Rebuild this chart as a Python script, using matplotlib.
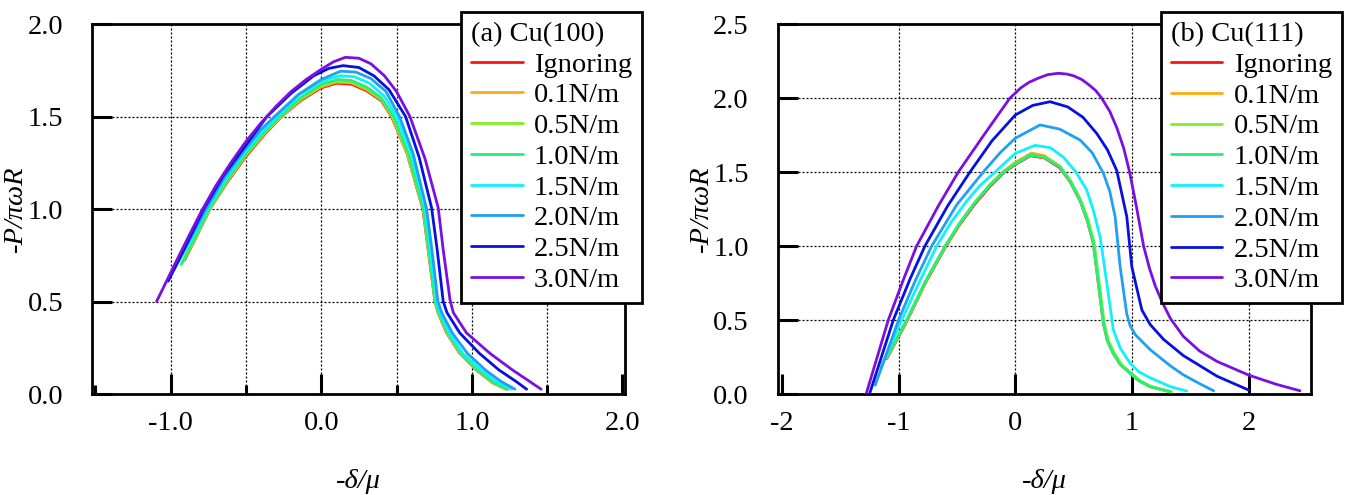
import numpy as np
import matplotlib
matplotlib.use("Agg")
import matplotlib.pyplot as plt
from matplotlib.ticker import FixedLocator

plt.rcParams['font.family'] = ['Liberation Serif', 'DejaVu Serif']

labels = ['Ignoring', '0.1N/m', '0.5N/m', '1.0N/m', '1.5N/m', '2.0N/m', '2.5N/m', '3.0N/m']
colors = ['#ff1010', '#ffaa10', '#80f020', '#20f080', '#10f0ff', '#20a0f0', '#0810e0', '#7a10e0']

# ---- (a) Cu(100) ----
a_ign_x = [-0.905, -0.82, -0.739, -0.62, -0.5, -0.38, -0.263, -0.13, 0.0, 0.1, 0.2, 0.3, 0.4, 0.467,
           0.57, 0.675, 0.71, 0.755, 0.777, 0.833, 0.92, 1.03, 1.14, 1.23]
a_ign_y = [0.727, 0.865, 1.0, 1.15, 1.284, 1.40, 1.5, 1.59, 1.655, 1.68, 1.675, 1.64, 1.585, 1.5,
           1.30, 1.0, 0.78, 0.5, 0.437, 0.33, 0.22, 0.13, 0.06, 0.026]
a_01_x = [-0.91, -0.82, -0.74, -0.62, -0.5, -0.38, -0.265, -0.13, 0.0, 0.1, 0.2, 0.3, 0.4, 0.47,
          0.57, 0.677, 0.712, 0.756, 0.778, 0.835, 0.922, 1.033, 1.143, 1.233]
a_01_y = [0.725, 0.868, 1.0, 1.155, 1.29, 1.405, 1.5, 1.595, 1.66, 1.686, 1.682, 1.646, 1.59, 1.5,
          1.30, 1.0, 0.78, 0.5, 0.437, 0.33, 0.22, 0.13, 0.06, 0.026]
a_05_x = [-0.92, -0.825, -0.742, -0.62, -0.5, -0.38, -0.27, -0.13, 0.0, 0.105, 0.2, 0.3, 0.4, 0.475,
          0.575, 0.678, 0.713, 0.757, 0.779, 0.838, 0.925, 1.036, 1.146, 1.236]
a_05_y = [0.712, 0.862, 1.0, 1.16, 1.295, 1.41, 1.5, 1.60, 1.668, 1.692, 1.689, 1.653, 1.595, 1.5,
          1.30, 1.0, 0.78, 0.5, 0.437, 0.33, 0.22, 0.13, 0.06, 0.026]
a_10_x = [-0.93, -0.83, -0.745, -0.62, -0.5, -0.38, -0.275, -0.13, 0.0, 0.11, 0.2, 0.3, 0.4, 0.48,
          0.58, 0.68, 0.715, 0.758, 0.78, 0.84, 0.93, 1.04, 1.15, 1.24]
a_10_y = [0.70, 0.86, 1.0, 1.165, 1.30, 1.415, 1.5, 1.605, 1.675, 1.70, 1.695, 1.66, 1.60, 1.5,
          1.30, 1.0, 0.78, 0.5, 0.44, 0.33, 0.22, 0.13, 0.06, 0.026]
a_15_x = [-0.983, -0.86, -0.755, -0.63, -0.5, -0.39, -0.29, -0.14, 0.0, 0.12, 0.22, 0.32, 0.42, 0.50,
          0.60, 0.69, 0.725, 0.765, 0.79, 0.85, 0.94, 1.06, 1.16, 1.264]
a_15_y = [0.664, 0.84, 1.0, 1.17, 1.315, 1.42, 1.5, 1.62, 1.69, 1.72, 1.715, 1.68, 1.61, 1.5,
          1.30, 1.0, 0.78, 0.5, 0.44, 0.33, 0.22, 0.13, 0.07, 0.026]
a_20_x = [-0.99, -0.87, -0.765, -0.64, -0.5, -0.4, -0.31, -0.15, 0.0, 0.13, 0.23, 0.33, 0.43, 0.52,
          0.61, 0.70, 0.735, 0.775, 0.80, 0.87, 0.97, 1.09, 1.19, 1.286]
a_20_y = [0.655, 0.84, 1.0, 1.175, 1.33, 1.43, 1.5, 1.62, 1.70, 1.745, 1.74, 1.705, 1.635, 1.5,
          1.30, 1.0, 0.78, 0.5, 0.44, 0.33, 0.22, 0.13, 0.07, 0.026]
a_25_x = [-1.016, -0.9, -0.78, -0.65, -0.5, -0.36, -0.2, -0.05, 0.05, 0.145, 0.25, 0.35, 0.45, 0.56,
          0.65, 0.733, 0.77, 0.81, 0.835, 0.92, 1.05, 1.18, 1.29, 1.364]
a_25_y = [0.61, 0.80, 1.0, 1.18, 1.345, 1.5, 1.625, 1.72, 1.76, 1.775, 1.765, 1.72, 1.645, 1.5,
          1.28, 1.006, 0.78, 0.5, 0.44, 0.33, 0.22, 0.13, 0.07, 0.026]
a_30_x = [-1.093, -1.0, -0.9, -0.794, -0.7, -0.6, -0.5, -0.4, -0.3, -0.2, -0.1, 0.0, 0.08, 0.16, 0.25,
          0.33, 0.42, 0.5, 0.589, 0.69, 0.777, 0.81, 0.855, 0.877, 0.965, 1.12, 1.27, 1.38, 1.46]
a_30_y = [0.50, 0.655, 0.82, 0.99, 1.125, 1.25, 1.365, 1.465, 1.555, 1.635, 1.70, 1.755, 1.795, 1.82, 1.815,
          1.785, 1.72, 1.635, 1.5, 1.27, 1.006, 0.78, 0.51, 0.44, 0.33, 0.22, 0.13, 0.07, 0.026]

# ---- (b) Cu(111) ----
b_ign_x = [-1.10, -0.93, -0.77, -0.60, -0.48, -0.35, -0.22, -0.10, 0.0, 0.13, 0.25, 0.38, 0.47, 0.556,
           0.62, 0.67, 0.713, 0.756, 0.79, 0.84, 0.90, 0.985, 1.06, 1.156, 1.33]
b_ign_y = [0.24, 0.49, 0.75, 0.99, 1.14, 1.28, 1.40, 1.495, 1.55, 1.61, 1.595, 1.53, 1.435, 1.305,
           1.165, 1.015, 0.745, 0.475, 0.36, 0.275, 0.20, 0.14, 0.09, 0.05, 0.015]
b_01_x = [-1.10, -0.93, -0.77, -0.60, -0.48, -0.35, -0.22, -0.10, 0.0, 0.14, 0.25, 0.38, 0.47, 0.556,
          0.62, 0.67, 0.713, 0.756, 0.79, 0.84, 0.90, 0.985, 1.06, 1.156, 1.33]
b_01_y = [0.245, 0.495, 0.755, 0.995, 1.145, 1.29, 1.41, 1.505, 1.565, 1.628, 1.61, 1.54, 1.44, 1.31,
          1.17, 1.018, 0.748, 0.478, 0.36, 0.275, 0.20, 0.14, 0.09, 0.05, 0.015]
b_05_x = [-1.10, -0.93, -0.77, -0.60, -0.48, -0.35, -0.22, -0.10, 0.0, 0.13, 0.25, 0.385, 0.475, 0.562,
          0.627, 0.677, 0.72, 0.763, 0.798, 0.85, 0.91, 0.995, 1.07, 1.166, 1.34]
b_05_y = [0.25, 0.50, 0.76, 1.0, 1.15, 1.29, 1.41, 1.50, 1.555, 1.615, 1.60, 1.536, 1.44, 1.31,
          1.17, 1.018, 0.748, 0.478, 0.36, 0.275, 0.20, 0.14, 0.09, 0.05, 0.015]
b_10_x = [-1.10, -0.93, -0.77, -0.60, -0.48, -0.35, -0.22, -0.10, 0.0, 0.13, 0.25, 0.38, 0.47, 0.556,
          0.62, 0.67, 0.713, 0.756, 0.79, 0.84, 0.90, 0.985, 1.06, 1.156, 1.33]
b_10_y = [0.25, 0.50, 0.76, 1.0, 1.15, 1.29, 1.41, 1.50, 1.555, 1.615, 1.60, 1.536, 1.44, 1.31,
          1.17, 1.018, 0.748, 0.478, 0.36, 0.275, 0.20, 0.14, 0.09, 0.05, 0.015]
b_15_x = [-1.15, -0.973, -0.82, -0.673, -0.55, -0.42, -0.30, -0.173, 0.0, 0.17, 0.30, 0.413, 0.52, 0.613,
          0.67, 0.727, 0.785, 0.841, 0.90, 0.985, 1.06, 1.156, 1.33, 1.47]
b_15_y = [0.18, 0.50, 0.76, 1.0, 1.16, 1.30, 1.41, 1.50, 1.626, 1.68, 1.665, 1.60, 1.50, 1.378,
          1.24, 1.063, 0.748, 0.432, 0.31, 0.207, 0.15, 0.11, 0.05, 0.02]
b_20_x = [-1.20, -1.0, -0.86, -0.716, -0.5, -0.274, -0.13, 0.0, 0.213, 0.38, 0.556, 0.66, 0.756, 0.81,
          0.856, 0.899, 0.956, 0.985, 1.03, 1.156, 1.33, 1.44, 1.58, 1.70]
b_20_y = [0.06, 0.50, 0.76, 1.0, 1.28, 1.50, 1.63, 1.728, 1.818, 1.79, 1.716, 1.63, 1.49, 1.37,
          1.198, 0.86, 0.54, 0.46, 0.40, 0.30, 0.19, 0.13, 0.07, 0.022]
b_25_x = [-1.245, -1.045, -0.9, -0.774, -0.58, -0.388, -0.2, 0.0, 0.15, 0.298, 0.45, 0.58, 0.699, 0.79,
          0.87, 0.956, 0.999, 1.085, 1.156, 1.27, 1.44, 1.73, 2.0]
b_25_y = [0.01, 0.5, 0.78, 1.0, 1.27, 1.5, 1.71, 1.885, 1.95, 1.975, 1.94, 1.87, 1.76, 1.65,
          1.51, 1.198, 0.86, 0.568, 0.47, 0.37, 0.26, 0.12, 0.027]
b_30_x = [-1.274, -1.088, -0.96, -0.845, -0.66, -0.488, -0.26, -0.045, 0.05, 0.12, 0.2, 0.28, 0.37, 0.44,
          0.5, 0.57, 0.63, 0.69, 0.74, 0.81, 0.87, 0.93, 0.98, 1.04, 1.10, 1.15, 1.2, 1.26, 1.33, 1.44,
          1.58, 1.73, 2.0, 2.24, 2.44]
b_30_y = [0.01, 0.5, 0.77, 1.0, 1.27, 1.5, 1.76, 2.0, 2.07, 2.107, 2.135, 2.158, 2.167, 2.162,
          2.15, 2.125, 2.09, 2.05, 2.0, 1.91, 1.8, 1.66, 1.5, 1.26, 1.0, 0.85, 0.73, 0.62, 0.51, 0.39,
          0.29, 0.22, 0.128, 0.065, 0.022]

a_series = [(a_ign_x, a_ign_y), (a_01_x, a_01_y), (a_05_x, a_05_y), (a_10_x, a_10_y),
            (a_15_x, a_15_y), (a_20_x, a_20_y), (a_25_x, a_25_y), (a_30_x, a_30_y)]
b_series = [(b_ign_x, b_ign_y), (b_01_x, b_01_y), (b_05_x, b_05_y), (b_10_x, b_10_y),
            (b_15_x, b_15_y), (b_20_x, b_20_y), (b_25_x, b_25_y), (b_30_x, b_30_y)]

FS = 20.5
fig = plt.figure(figsize=(13.47, 4.95), dpi=100)
ax1 = fig.add_axes([0.0685, 0.204, 0.3955, 0.7475])
ax2 = fig.add_axes([0.5776, 0.204, 0.3957, 0.7475])

grid_kw = dict(color='black', lw=0.9, linestyle=(0, (1.6, 1.6)), zorder=1)


def style_axes(ax, title, anchor):
    for sp in ax.spines.values():
        sp.set_linewidth(2.0)
    ax.tick_params(axis='both', which='both', direction='in', top=False, right=False,
                   width=2.2, labelsize=FS, color='black')
    ax.tick_params(axis='x', which='major', length=14.5, pad=12)
    ax.tick_params(axis='x', which='minor', length=6.5)
    ax.tick_params(axis='y', which='major', length=14.5, pad=21)
    ax.set_xlabel('-δ/μ', fontsize=FS, fontstyle='italic', labelpad=24)
    ax.set_ylabel('-P/πωR', fontsize=FS, fontstyle='italic')
    ax.yaxis.set_label_coords(-0.12, 0.5)
    leg = ax.legend(loc='upper right', bbox_to_anchor=anchor, borderaxespad=0,
                    fontsize=FS, title=title, title_fontsize=FS, alignment='left',
                    fancybox=False, framealpha=1, edgecolor='black',
                    handlelength=1.8, handletextpad=0.4, labelspacing=0.17,
                    borderpad=0.35)
    leg.get_frame().set_linewidth(2.0)
    leg.set_zorder(10)


# panel (a)
for (xs, ys), lab, c in zip(a_series, labels, colors):
    ax1.plot(xs, ys, color=c, lw=2.0, label=lab, zorder=3,
             solid_capstyle='round', solid_joinstyle='round')
for gx in np.arange(-1.0, 1.6, 0.5):
    ax1.axvline(gx, **grid_kw)
for gy in [0.5, 1.0, 1.5]:
    ax1.axhline(gy, **grid_kw)
ax1.set_xlim(-1.52, 2.017)
ax1.set_ylim(0, 2.0)
ax1.xaxis.set_major_locator(FixedLocator([-1.0, 0.0, 1.0, 2.0]))
ax1.xaxis.set_minor_locator(FixedLocator([-1.5, -0.5, 0.5, 1.5]))
ax1.set_xticklabels(['-1.0', '0.0', '1.0', '2.0'])
ax1.set_yticks([0, 0.5, 1.0, 1.5, 2.0])
ax1.set_yticklabels(['0.0', '0.5', '1.0', '1.5', '2.0'])
style_axes(ax1, '(a) Cu(100)', (1.032, 1.033))

# panel (b)
for (xs, ys), lab, c in zip(b_series, labels, colors):
    ax2.plot(xs, ys, color=c, lw=2.0, label=lab, zorder=3,
             solid_capstyle='round', solid_joinstyle='round')
for gx in [-1, 0, 1, 2]:
    ax2.axvline(gx, **grid_kw)
for gy in [0.5, 1.0, 1.5, 2.0]:
    ax2.axhline(gy, **grid_kw)
ax2.set_xlim(-2.033, 2.535)
ax2.set_ylim(0, 2.5)
ax2.set_xticks([-2, -1, 0, 1, 2])
ax2.set_xticklabels(['-2', '-1', '0', '1', '2'])
ax2.set_yticks([0, 0.5, 1.0, 1.5, 2.0, 2.5])
ax2.set_yticklabels(['0.0', '0.5', '1.0', '1.5', '2.0', '2.5'])
style_axes(ax2, '(b) Cu(111)', (1.0576, 1.032))

fig.savefig('out.png', dpi=100)
